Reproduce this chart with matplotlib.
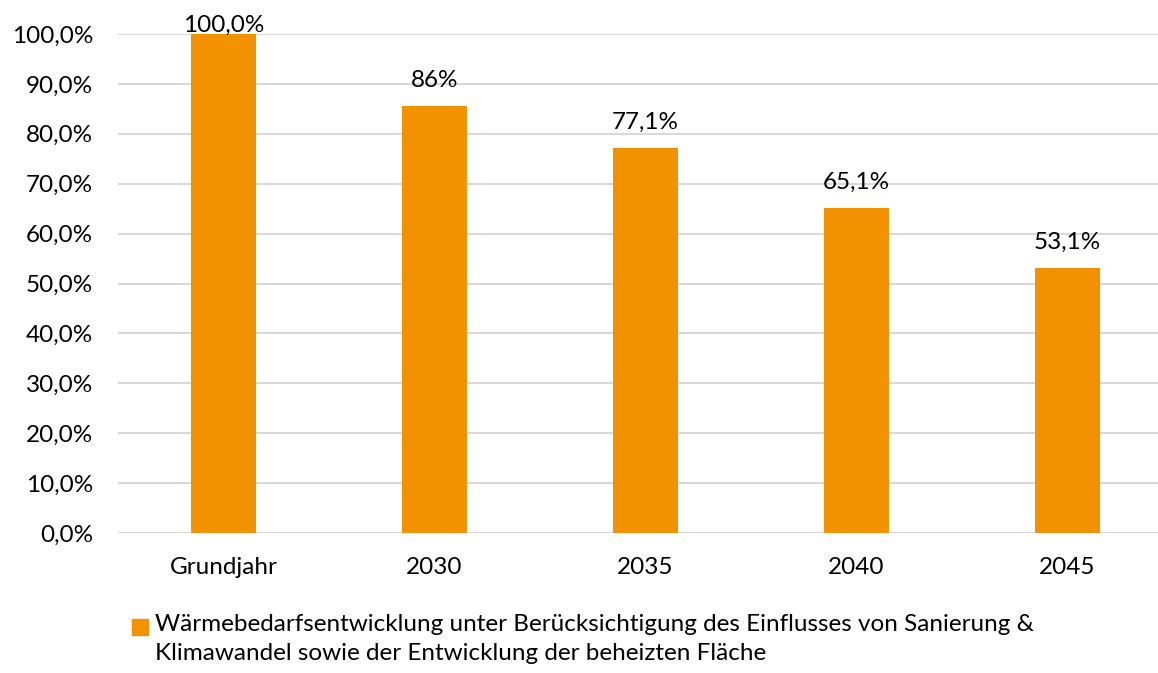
import matplotlib
matplotlib.use("Agg")
import matplotlib.pyplot as plt
from matplotlib.patches import Rectangle

categories = ["Grundjahr", "2030", "2035", "2040", "2045"]
values = [100.0, 85.6, 77.1, 65.1, 53.1]
value_labels = ["100,0%", "86%", "77,1%", "65,1%", "53,1%"]
yticks = [0, 10, 20, 30, 40, 50, 60, 70, 80, 90, 100]
ytick_labels = [f"{t:.1f}%".replace(".", ",") for t in yticks]
legend_label = ("Wärmebedarfsentwicklung unter Berücksichtigung des Einflusses von Sanierung &\n"
                "Klimawandel sowie der Entwicklung der beheizten Fläche")

ORANGE = "#F39200"
GRID = "#D9D9D9"
FS = 17.5

plt.rcParams["font.family"] = ["Lato", "DejaVu Sans"]

fig = plt.figure(figsize=(11.58, 6.73), dpi=100)
W, H = 1158, 673
ax = fig.add_axes([118 / W, 1 - 533 / H, 1 - 118 / W, 499 / H])

x = list(range(len(categories)))
ax.bar(x, values, width=0.31, color=ORANGE, zorder=3)

ax.set_xlim(-0.5, 4.43)
ax.set_ylim(0, 100)
ax.set_yticks(yticks)
ax.set_yticklabels(ytick_labels)
ax.set_xticks(x)
ax.set_xticklabels(categories)
ax.tick_params(axis="y", length=0, pad=18, labelsize=FS, colors="black")
ax.tick_params(axis="x", length=0, pad=17, labelsize=FS, colors="black")
ax.grid(axis="y", color=GRID, linewidth=1.5, zorder=0)
for s in ax.spines.values():
    s.set_visible(False)

for xi, v, lab in zip(x, values, value_labels):
    off = -1 if v >= 100 else 11
    ax.annotate(lab, (xi, v), textcoords="offset points", xytext=(0, off),
                ha="center", va="bottom", fontsize=FS, color="black",
                annotation_clip=False, zorder=4)

# legend drawn by hand: square marker next to the first line of wrapped text
fig.patches.append(Rectangle((132 / W, 1 - 635 / H), 16 / W, 16 / H,
                             transform=fig.transFigure, color=ORANGE))
fig.text(155 / W, 1 - 614 / H, legend_label, ha="left", va="top",
         fontsize=FS, linespacing=1.45)

fig.savefig("out.png", dpi=100)
